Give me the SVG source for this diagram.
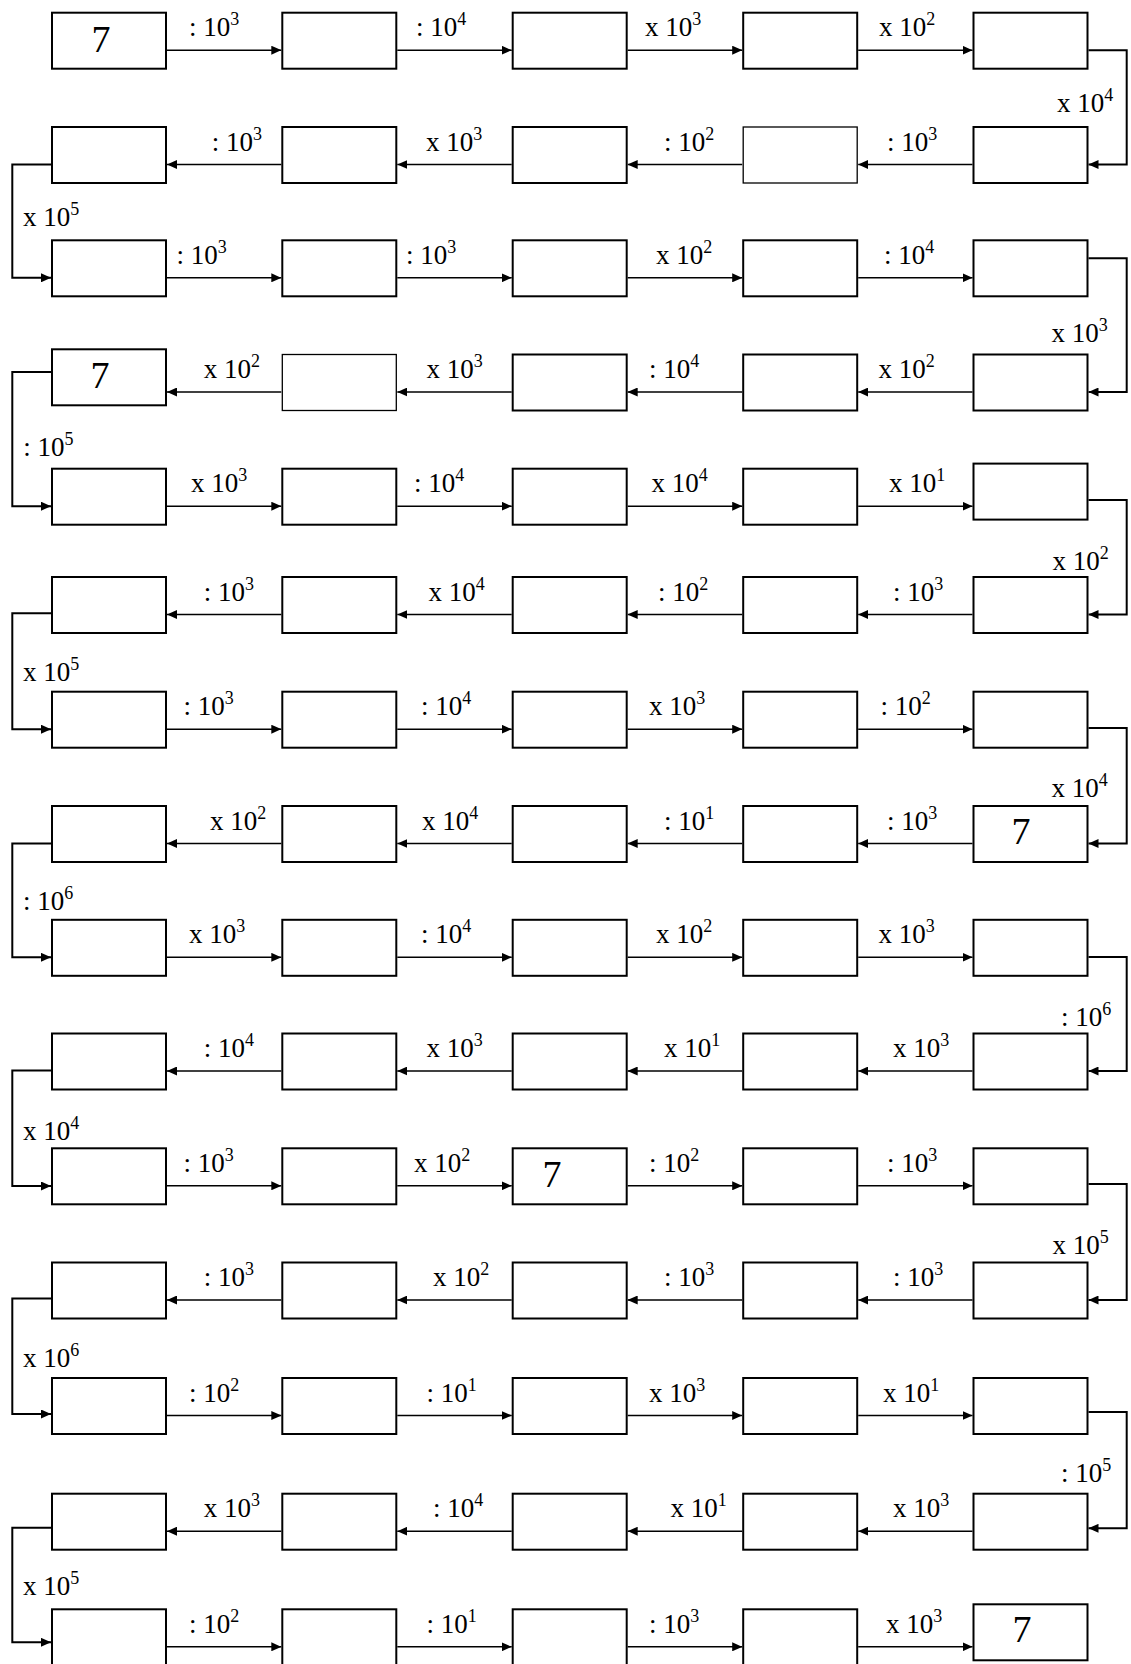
<svg xmlns="http://www.w3.org/2000/svg" width="1131" height="1664" viewBox="0 0 1131 1664">
<style>
.b{fill:#fff;stroke:#000;stroke-width:2}
.bt{stroke-width:1.3}
.a{fill:none;stroke:#000;stroke-width:1.6;marker-end:url(#ah)}
.t{fill:none;stroke:#000;stroke-width:2;marker-end:url(#ah)}
.l{font-family:"Liberation Serif","Times New Roman",serif;font-size:27px;fill:#000}
.s{font-size:18px}
.n{font-family:"Liberation Serif","Times New Roman",serif;font-size:38px;text-anchor:middle;fill:#000}
</style>
<defs>
<marker id="ah" markerUnits="userSpaceOnUse" markerWidth="10" markerHeight="9" refX="10" refY="4.5" orient="auto"><path d="M0,0 L10,4.5 L0,9 z" fill="#000"/></marker>
</defs>
<rect width="1131" height="1664" fill="#fff"/>
<g id="connectors">
<path class="a" d="M167,50.2H281.3"/><path class="a" d="M397.3,50.2H511.7"/><path class="a" d="M627.7,50.2H742.2"/><path class="a" d="M858.2,50.2H972.5"/>
<path class="a" d="M281.3,164.5H167"/><path class="a" d="M511.7,164.5H397.3"/><path class="a" d="M742.2,164.5H627.7"/><path class="a" d="M972.5,164.5H858.2"/>
<path class="a" d="M167,277.8H281.3"/><path class="a" d="M397.3,277.8H511.7"/><path class="a" d="M627.7,277.8H742.2"/><path class="a" d="M858.2,277.8H972.5"/>
<path class="a" d="M281.3,392H167"/><path class="a" d="M511.7,392H397.3"/><path class="a" d="M742.2,392H627.7"/><path class="a" d="M972.5,392H858.2"/>
<path class="a" d="M167,506.2H281.3"/><path class="a" d="M397.3,506.2H511.7"/><path class="a" d="M627.7,506.2H742.2"/><path class="a" d="M858.2,506.2H972.5"/>
<path class="a" d="M281.3,614.5H167"/><path class="a" d="M511.7,614.5H397.3"/><path class="a" d="M742.2,614.5H627.7"/><path class="a" d="M972.5,614.5H858.2"/>
<path class="a" d="M167,729.2H281.3"/><path class="a" d="M397.3,729.2H511.7"/><path class="a" d="M627.7,729.2H742.2"/><path class="a" d="M858.2,729.2H972.5"/>
<path class="a" d="M281.3,843.5H167"/><path class="a" d="M511.7,843.5H397.3"/><path class="a" d="M742.2,843.5H627.7"/><path class="a" d="M972.5,843.5H858.2"/>
<path class="a" d="M167,957.3H281.3"/><path class="a" d="M397.3,957.3H511.7"/><path class="a" d="M627.7,957.3H742.2"/><path class="a" d="M858.2,957.3H972.5"/>
<path class="a" d="M281.3,1071H167"/><path class="a" d="M511.7,1071H397.3"/><path class="a" d="M742.2,1071H627.7"/><path class="a" d="M972.5,1071H858.2"/>
<path class="a" d="M167,1185.8H281.3"/><path class="a" d="M397.3,1185.8H511.7"/><path class="a" d="M627.7,1185.8H742.2"/><path class="a" d="M858.2,1185.8H972.5"/>
<path class="a" d="M281.3,1300H167"/><path class="a" d="M511.7,1300H397.3"/><path class="a" d="M742.2,1300H627.7"/><path class="a" d="M972.5,1300H858.2"/>
<path class="a" d="M167,1415.5H281.3"/><path class="a" d="M397.3,1415.5H511.7"/><path class="a" d="M627.7,1415.5H742.2"/><path class="a" d="M858.2,1415.5H972.5"/>
<path class="a" d="M281.3,1531.2H167"/><path class="a" d="M511.7,1531.2H397.3"/><path class="a" d="M742.2,1531.2H627.7"/><path class="a" d="M972.5,1531.2H858.2"/>
<path class="a" d="M167,1646.8H281.3"/><path class="a" d="M397.3,1646.8H511.7"/><path class="a" d="M627.7,1646.8H742.2"/><path class="a" d="M858.2,1646.8H972.5"/>
<path class="t" d="M1088.5,50.2H1126.7V164.5H1088.5"/>
<path class="t" d="M51,164.5H12.3V277.8H51"/>
<path class="t" d="M1088.5,258.3H1126.7V392H1088.5"/>
<path class="t" d="M51,372H12.3V506.2H51"/>
<path class="t" d="M1088.5,500H1126.7V614.5H1088.5"/>
<path class="t" d="M51,613.3H12.3V729.2H51"/>
<path class="t" d="M1088.5,728H1126.7V843.5H1088.5"/>
<path class="t" d="M51,843.5H12.3V957.3H51"/>
<path class="t" d="M1088.5,957H1126.7V1071H1088.5"/>
<path class="t" d="M51,1070.6H12.3V1186H51"/>
<path class="t" d="M1088.5,1184H1126.7V1300H1088.5"/>
<path class="t" d="M51,1298.6H12.3V1414H51"/>
<path class="t" d="M1088.5,1412H1126.7V1528.3H1088.5"/>
<path class="t" d="M51,1527.7H12.3V1642.3H51"/>
</g>
<g id="labels" class="l">
<text x="189" y="36.2">: 10<tspan class="s" dy="-11">3</tspan></text>
<text x="416" y="36.2">: 10<tspan class="s" dy="-11">4</tspan></text>
<text x="645" y="36.2">x 10<tspan class="s" dy="-11">3</tspan></text>
<text x="879" y="36.2">x 10<tspan class="s" dy="-11">2</tspan></text>
<text x="887" y="150.5">: 10<tspan class="s" dy="-11">3</tspan></text>
<text x="664" y="150.5">: 10<tspan class="s" dy="-11">2</tspan></text>
<text x="426" y="150.5">x 10<tspan class="s" dy="-11">3</tspan></text>
<text x="211.7" y="150.5">: 10<tspan class="s" dy="-11">3</tspan></text>
<text x="176.5" y="263.8">: 10<tspan class="s" dy="-11">3</tspan></text>
<text x="406" y="263.8">: 10<tspan class="s" dy="-11">3</tspan></text>
<text x="656" y="263.8">x 10<tspan class="s" dy="-11">2</tspan></text>
<text x="884" y="263.8">: 10<tspan class="s" dy="-11">4</tspan></text>
<text x="878.5" y="378">x 10<tspan class="s" dy="-11">2</tspan></text>
<text x="649" y="378">: 10<tspan class="s" dy="-11">4</tspan></text>
<text x="426.5" y="378">x 10<tspan class="s" dy="-11">3</tspan></text>
<text x="203.7" y="378">x 10<tspan class="s" dy="-11">2</tspan></text>
<text x="191" y="492.2">x 10<tspan class="s" dy="-11">3</tspan></text>
<text x="414" y="492.2">: 10<tspan class="s" dy="-11">4</tspan></text>
<text x="651.5" y="492.2">x 10<tspan class="s" dy="-11">4</tspan></text>
<text x="889" y="492.2">x 10<tspan class="s" dy="-11">1</tspan></text>
<text x="893" y="600.5">: 10<tspan class="s" dy="-11">3</tspan></text>
<text x="658" y="600.5">: 10<tspan class="s" dy="-11">2</tspan></text>
<text x="428.6" y="600.5">x 10<tspan class="s" dy="-11">4</tspan></text>
<text x="203.7" y="600.5">: 10<tspan class="s" dy="-11">3</tspan></text>
<text x="183.5" y="715.2">: 10<tspan class="s" dy="-11">3</tspan></text>
<text x="421" y="715.2">: 10<tspan class="s" dy="-11">4</tspan></text>
<text x="649" y="715.2">x 10<tspan class="s" dy="-11">3</tspan></text>
<text x="880.6" y="715.2">: 10<tspan class="s" dy="-11">2</tspan></text>
<text x="887" y="829.5">: 10<tspan class="s" dy="-11">3</tspan></text>
<text x="664" y="829.5">: 10<tspan class="s" dy="-11">1</tspan></text>
<text x="422" y="829.5">x 10<tspan class="s" dy="-11">4</tspan></text>
<text x="210" y="829.5">x 10<tspan class="s" dy="-11">2</tspan></text>
<text x="189" y="943.3">x 10<tspan class="s" dy="-11">3</tspan></text>
<text x="421" y="943.3">: 10<tspan class="s" dy="-11">4</tspan></text>
<text x="656" y="943.3">x 10<tspan class="s" dy="-11">2</tspan></text>
<text x="878.5" y="943.3">x 10<tspan class="s" dy="-11">3</tspan></text>
<text x="893" y="1057">x 10<tspan class="s" dy="-11">3</tspan></text>
<text x="664" y="1057">x 10<tspan class="s" dy="-11">1</tspan></text>
<text x="426.5" y="1057">x 10<tspan class="s" dy="-11">3</tspan></text>
<text x="203.7" y="1057">: 10<tspan class="s" dy="-11">4</tspan></text>
<text x="183.5" y="1171.8">: 10<tspan class="s" dy="-11">3</tspan></text>
<text x="414" y="1171.8">x 10<tspan class="s" dy="-11">2</tspan></text>
<text x="649" y="1171.8">: 10<tspan class="s" dy="-11">2</tspan></text>
<text x="887" y="1171.8">: 10<tspan class="s" dy="-11">3</tspan></text>
<text x="893" y="1286">: 10<tspan class="s" dy="-11">3</tspan></text>
<text x="664" y="1286">: 10<tspan class="s" dy="-11">3</tspan></text>
<text x="433" y="1286">x 10<tspan class="s" dy="-11">2</tspan></text>
<text x="203.7" y="1286">: 10<tspan class="s" dy="-11">3</tspan></text>
<text x="189" y="1401.5">: 10<tspan class="s" dy="-11">2</tspan></text>
<text x="426.5" y="1401.5">: 10<tspan class="s" dy="-11">1</tspan></text>
<text x="649" y="1401.5">x 10<tspan class="s" dy="-11">3</tspan></text>
<text x="883" y="1401.5">x 10<tspan class="s" dy="-11">1</tspan></text>
<text x="893" y="1517.2">x 10<tspan class="s" dy="-11">3</tspan></text>
<text x="670.6" y="1517.2">x 10<tspan class="s" dy="-11">1</tspan></text>
<text x="433" y="1517.2">: 10<tspan class="s" dy="-11">4</tspan></text>
<text x="203.7" y="1517.2">x 10<tspan class="s" dy="-11">3</tspan></text>
<text x="189" y="1632.8">: 10<tspan class="s" dy="-11">2</tspan></text>
<text x="426.5" y="1632.8">: 10<tspan class="s" dy="-11">1</tspan></text>
<text x="649" y="1632.8">: 10<tspan class="s" dy="-11">3</tspan></text>
<text x="886" y="1632.8">x 10<tspan class="s" dy="-11">3</tspan></text>
<text x="1057" y="111.7">x 10<tspan class="s" dy="-11">4</tspan></text>
<text x="23" y="226">x 10<tspan class="s" dy="-11">5</tspan></text>
<text x="1051.5" y="341.6">x 10<tspan class="s" dy="-11">3</tspan></text>
<text x="23.3" y="456">: 10<tspan class="s" dy="-11">5</tspan></text>
<text x="1052.5" y="570">x 10<tspan class="s" dy="-11">2</tspan></text>
<text x="23" y="681">x 10<tspan class="s" dy="-11">5</tspan></text>
<text x="1051.5" y="797">x 10<tspan class="s" dy="-11">4</tspan></text>
<text x="23" y="910">: 10<tspan class="s" dy="-11">6</tspan></text>
<text x="1061" y="1026">: 10<tspan class="s" dy="-11">6</tspan></text>
<text x="23" y="1139.5">x 10<tspan class="s" dy="-11">4</tspan></text>
<text x="1052.5" y="1254">x 10<tspan class="s" dy="-11">5</tspan></text>
<text x="23" y="1366.6">x 10<tspan class="s" dy="-11">6</tspan></text>
<text x="1061" y="1482">: 10<tspan class="s" dy="-11">5</tspan></text>
<text x="23" y="1595">x 10<tspan class="s" dy="-11">5</tspan></text>
</g>
<g id="nodes">
<g id="n1-1"><rect class="b" x="52" y="12.7" width="114" height="56"/><text class="n" x="101" y="51.7">7</text></g>
<g id="n1-2"><rect class="b" x="282.3" y="12.7" width="114" height="56"/></g>
<g id="n1-3"><rect class="b" x="512.7" y="12.7" width="114" height="56"/></g>
<g id="n1-4"><rect class="b" x="743.2" y="12.7" width="114" height="56"/></g>
<g id="n1-5"><rect class="b" x="973.5" y="12.7" width="114" height="56"/></g>
<g id="n2-1"><rect class="b" x="52" y="127" width="114" height="56"/></g>
<g id="n2-2"><rect class="b" x="282.3" y="127" width="114" height="56"/></g>
<g id="n2-3"><rect class="b" x="512.7" y="127" width="114" height="56"/></g>
<g id="n2-4"><rect class="b bt" x="743.2" y="127" width="114" height="56"/></g>
<g id="n2-5"><rect class="b" x="973.5" y="127" width="114" height="56"/></g>
<g id="n3-1"><rect class="b" x="52" y="240.3" width="114" height="56"/></g>
<g id="n3-2"><rect class="b" x="282.3" y="240.3" width="114" height="56"/></g>
<g id="n3-3"><rect class="b" x="512.7" y="240.3" width="114" height="56"/></g>
<g id="n3-4"><rect class="b" x="743.2" y="240.3" width="114" height="56"/></g>
<g id="n3-5"><rect class="b" x="973.5" y="240.3" width="114" height="56"/></g>
<g id="n4-1"><rect class="b" x="52" y="349.3" width="114" height="56"/><text class="n" x="100" y="387.5">7</text></g>
<g id="n4-2"><rect class="b bt" x="282.3" y="354.5" width="114" height="56"/></g>
<g id="n4-3"><rect class="b" x="512.7" y="354.5" width="114" height="56"/></g>
<g id="n4-4"><rect class="b" x="743.2" y="354.5" width="114" height="56"/></g>
<g id="n4-5"><rect class="b" x="973.5" y="354.5" width="114" height="56"/></g>
<g id="n5-1"><rect class="b" x="52" y="468.7" width="114" height="56"/></g>
<g id="n5-2"><rect class="b" x="282.3" y="468.7" width="114" height="56"/></g>
<g id="n5-3"><rect class="b" x="512.7" y="468.7" width="114" height="56"/></g>
<g id="n5-4"><rect class="b" x="743.2" y="468.7" width="114" height="56"/></g>
<g id="n5-5"><rect class="b" x="973.5" y="463.6" width="114" height="56"/></g>
<g id="n6-1"><rect class="b" x="52" y="577" width="114" height="56"/></g>
<g id="n6-2"><rect class="b" x="282.3" y="577" width="114" height="56"/></g>
<g id="n6-3"><rect class="b" x="512.7" y="577" width="114" height="56"/></g>
<g id="n6-4"><rect class="b" x="743.2" y="577" width="114" height="56"/></g>
<g id="n6-5"><rect class="b" x="973.5" y="577" width="114" height="56"/></g>
<g id="n7-1"><rect class="b" x="52" y="691.7" width="114" height="56"/></g>
<g id="n7-2"><rect class="b" x="282.3" y="691.7" width="114" height="56"/></g>
<g id="n7-3"><rect class="b" x="512.7" y="691.7" width="114" height="56"/></g>
<g id="n7-4"><rect class="b" x="743.2" y="691.7" width="114" height="56"/></g>
<g id="n7-5"><rect class="b" x="973.5" y="691.7" width="114" height="56"/></g>
<g id="n8-1"><rect class="b" x="52" y="806" width="114" height="56"/></g>
<g id="n8-2"><rect class="b" x="282.3" y="806" width="114" height="56"/></g>
<g id="n8-3"><rect class="b" x="512.7" y="806" width="114" height="56"/></g>
<g id="n8-4"><rect class="b" x="743.2" y="806" width="114" height="56"/></g>
<g id="n8-5"><rect class="b" x="973.5" y="806" width="114" height="56"/><text class="n" x="1021" y="844">7</text></g>
<g id="n9-1"><rect class="b" x="52" y="919.8" width="114" height="56"/></g>
<g id="n9-2"><rect class="b" x="282.3" y="919.8" width="114" height="56"/></g>
<g id="n9-3"><rect class="b" x="512.7" y="919.8" width="114" height="56"/></g>
<g id="n9-4"><rect class="b" x="743.2" y="919.8" width="114" height="56"/></g>
<g id="n9-5"><rect class="b" x="973.5" y="919.8" width="114" height="56"/></g>
<g id="n10-1"><rect class="b" x="52" y="1033.5" width="114" height="56"/></g>
<g id="n10-2"><rect class="b" x="282.3" y="1033.5" width="114" height="56"/></g>
<g id="n10-3"><rect class="b" x="512.7" y="1033.5" width="114" height="56"/></g>
<g id="n10-4"><rect class="b" x="743.2" y="1033.5" width="114" height="56"/></g>
<g id="n10-5"><rect class="b" x="973.5" y="1033.5" width="114" height="56"/></g>
<g id="n11-1"><rect class="b" x="52" y="1148.3" width="114" height="56"/></g>
<g id="n11-2"><rect class="b" x="282.3" y="1148.3" width="114" height="56"/></g>
<g id="n11-3"><rect class="b" x="512.7" y="1148.3" width="114" height="56"/><text class="n" x="552" y="1186.5">7</text></g>
<g id="n11-4"><rect class="b" x="743.2" y="1148.3" width="114" height="56"/></g>
<g id="n11-5"><rect class="b" x="973.5" y="1148.3" width="114" height="56"/></g>
<g id="n12-1"><rect class="b" x="52" y="1262.5" width="114" height="56"/></g>
<g id="n12-2"><rect class="b" x="282.3" y="1262.5" width="114" height="56"/></g>
<g id="n12-3"><rect class="b" x="512.7" y="1262.5" width="114" height="56"/></g>
<g id="n12-4"><rect class="b" x="743.2" y="1262.5" width="114" height="56"/></g>
<g id="n12-5"><rect class="b" x="973.5" y="1262.5" width="114" height="56"/></g>
<g id="n13-1"><rect class="b" x="52" y="1378" width="114" height="56"/></g>
<g id="n13-2"><rect class="b" x="282.3" y="1378" width="114" height="56"/></g>
<g id="n13-3"><rect class="b" x="512.7" y="1378" width="114" height="56"/></g>
<g id="n13-4"><rect class="b" x="743.2" y="1378" width="114" height="56"/></g>
<g id="n13-5"><rect class="b" x="973.5" y="1378" width="114" height="56"/></g>
<g id="n14-1"><rect class="b" x="52" y="1493.7" width="114" height="56"/></g>
<g id="n14-2"><rect class="b" x="282.3" y="1493.7" width="114" height="56"/></g>
<g id="n14-3"><rect class="b" x="512.7" y="1493.7" width="114" height="56"/></g>
<g id="n14-4"><rect class="b" x="743.2" y="1493.7" width="114" height="56"/></g>
<g id="n14-5"><rect class="b" x="973.5" y="1493.7" width="114" height="56"/></g>
<g id="n15-1"><rect class="b" x="52" y="1609.3" width="114" height="56"/></g>
<g id="n15-2"><rect class="b" x="282.3" y="1609.3" width="114" height="56"/></g>
<g id="n15-3"><rect class="b" x="512.7" y="1609.3" width="114" height="56"/></g>
<g id="n15-4"><rect class="b" x="743.2" y="1609.3" width="114" height="56"/></g>
<g id="n15-5"><rect class="b" x="973.5" y="1604.3" width="114" height="56"/><text class="n" x="1022" y="1641.5">7</text></g>
</g>
</svg>
